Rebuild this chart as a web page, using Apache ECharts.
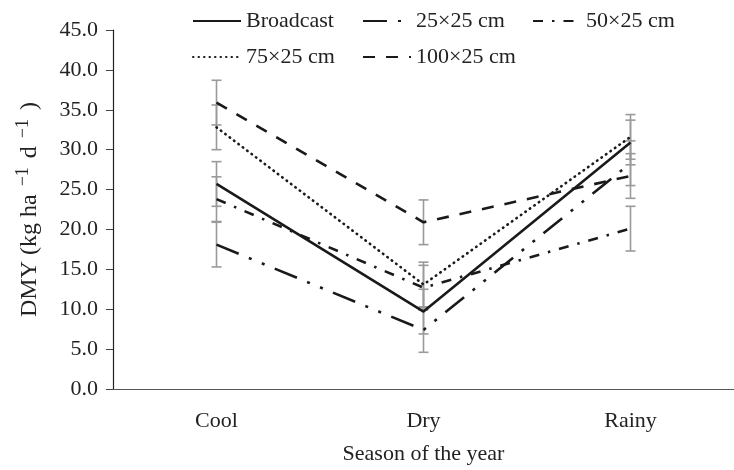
<!DOCTYPE html>
<html>
<head>
<meta charset="utf-8">
<script src="https://cdn.jsdelivr.net/npm/echarts@6/dist/echarts.min.js"></script>
<style>
html, body { margin: 0; padding: 0; background: #fff; }
#chart { width: 734px; height: 470px; }
</style>
</head>
<body>
<div id="chart"></div>
<script>
// seasons on the x axis
var seasons = ['Cool', 'Dry', 'Rainy'];

// mean DMY per treatment
var broadcast = [25.7, 9.7, 30.9];
var s25x25 = [18.1, 7.4, 28.3];
var s50x25 = [23.8, 12.7, 20.1];
var s75x25 = [32.8, 13.1, 31.6];
var s100x25 = [35.9, 20.9, 26.7];

// standard errors
var errBroadcast = [2.8, 2.8, 2.8];
var err25x25 = [2.8, 2.8, 2.8];
var err50x25 = [2.8, 2.8, 2.8];
var err75x25 = [2.8, 2.8, 2.8];
var err100x25 = [2.8, 2.8, 2.8];

var yTicks = [0, 5, 10, 15, 20, 25, 30, 35, 40, 45];

var FONT = 'Liberation Serif';
var FS = 22;

var lines = [
    {name: 'Broadcast', data: broadcast, err: errBroadcast, type: 'solid', cap: 'butt'},
    {name: '25×25 cm', data: s25x25, err: err25x25, type: [24, 11, 3, 11, 3, 11], cap: 'butt'},
    {name: '50×25 cm', data: s50x25, err: err50x25, type: [10, 9, 2.5, 9], cap: 'butt'},
    {name: '75×25 cm', data: s75x25, err: err75x25, type: [0.5, 5], cap: 'round'},
    {name: '100×25 cm', data: s100x25, err: err100x25, type: [12, 11], cap: 'butt'}
];

var errData = [];
lines.forEach(function (l) {
    for (var i = 0; i < seasons.length; i++) {
        errData.push([i, l.data[i] - l.err[i], l.data[i] + l.err[i]]);
    }
});

var series = [{
    type: 'custom',
    name: 'err',
    z: 1,
    silent: true,
    data: errData,
    renderItem: function (params, api) {
        var lo = api.coord([api.value(0), api.value(1)]);
        var hi = api.coord([api.value(0), api.value(2)]);
        var w = 5;
        var st = {stroke: '#9a9a9a', lineWidth: 1.6};
        return {
            type: 'group',
            children: [
                {type: 'line', shape: {x1: lo[0], y1: lo[1], x2: hi[0], y2: hi[1]}, style: st},
                {type: 'line', shape: {x1: lo[0] - w, y1: lo[1], x2: lo[0] + w, y2: lo[1]}, style: st},
                {type: 'line', shape: {x1: hi[0] - w, y1: hi[1], x2: hi[0] + w, y2: hi[1]}, style: st}
            ]
        };
    }
}];

lines.forEach(function (l) {
    series.push({
        name: l.name,
        type: 'line',
        data: l.data,
        z: 3,
        symbol: 'none',
        color: '#1a1a1a',
        lineStyle: {color: '#1a1a1a', width: 2.6, type: l.type, cap: l.cap}
    });
});

function legendAt(left, names) {
    return {
        orient: 'vertical',
        top: 10,
        left: left,
        padding: 0,
        data: names,
        itemWidth: 48,
        itemHeight: 14,
        itemGap: 14,
        itemStyle: {opacity: 0},
        textStyle: {fontFamily: FONT, fontSize: FS, color: '#222', lineHeight: 22}
    };
}

var option = {
    animation: false,
    backgroundColor: '#fff',
    legend: [
        legendAt(192, ['Broadcast', '75×25 cm']),
        legendAt(362, ['25×25 cm', '100×25 cm']),
        legendAt(532, ['50×25 cm'])
    ],
    grid: {left: 113, top: 30, bottom: 72, right: -11, containLabel: false},
    xAxis: {
        type: 'category',
        data: seasons,
        boundaryGap: true,
        name: 'Season of the year',
        nameLocation: 'middle',
        nameGap: 54,
        nameTextStyle: {fontFamily: FONT, fontSize: FS, color: '#222'},
        axisLine: {lineStyle: {color: '#555', width: 1.2}},
        axisTick: {show: false},
        axisLabel: {fontFamily: FONT, fontSize: FS, color: '#222', margin: 21}
    },
    yAxis: {
        type: 'value',
        min: yTicks[0],
        max: yTicks[yTicks.length - 1],
        interval: 5,
        name: 'DMY (kg ha{sup|−1}d{sup|−1})',
        nameLocation: 'middle',
        nameGap: 68,
        nameRotate: 90,
        nameTextStyle: {
            fontFamily: FONT, fontSize: 24, color: '#222',
            rich: {sup: {fontFamily: FONT, fontSize: 18, color: '#222', padding: [0, 9, 13, 8]}}
        },
        splitLine: {show: false},
        axisLine: {show: true, lineStyle: {color: '#222', width: 1.2}},
        axisTick: {show: true, length: 7, inside: false, lineStyle: {color: '#444'}},
        axisLabel: {
            fontFamily: FONT, fontSize: FS, color: '#222', margin: 15,
            formatter: function (v) { return v.toFixed(1); }
        }
    },
    series: series
};

var chart = echarts.init(document.getElementById('chart'));
chart.setOption(option);
</script>
</body>
</html>
